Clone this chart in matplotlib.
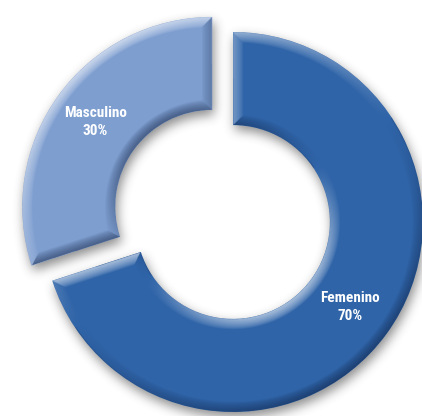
import numpy as np
import matplotlib
matplotlib.use("Agg")
import matplotlib.pyplot as plt
from matplotlib import font_manager

# data
categories = ["Femenino", "Masculino"]
percent = [70, 30]
explode = [0, 0.135]
colors = ["#2f64a8", "#7e9ed0"]

W_PX, H_PX = 422, 416
SS = 2  # supersampling for the shading images


def blur1d(a, k, axis):
    pad = [(0, 0), (0, 0)]
    pad[axis] = (k, k)
    p = np.pad(a, pad, mode="constant")
    c = np.cumsum(p, axis=axis)
    c = np.insert(c, 0, 0, axis=axis)
    n = a.shape[axis]
    if axis == 0:
        return (c[2 * k + 1:2 * k + 1 + n] - c[:n]) / (2 * k + 1)
    return (c[:, 2 * k + 1:2 * k + 1 + n] - c[:, :n]) / (2 * k + 1)


def box_blur(a, k, passes=3):
    for _ in range(passes):
        a = blur1d(blur1d(a, k, 0), k, 1)
    return a


def wedge_shading(w, X, Y, bevel, light):
    cx, cy = w.center
    R, width = w.r, w.width
    t1, t2 = w.theta1, w.theta2
    dx, dy = X - cx, Y - cy
    r = np.hypot(dx, dy)
    phi = np.degrees(np.arctan2(dy, dx))
    a1 = (phi - t1) % 360
    a2 = (t2 - phi) % 360
    inside = (r <= R) & (r >= R - width) & (a1 <= (t2 - t1))

    d_out = R - r
    d_in = r - (R - width)
    d1 = np.where(a1 < 90, r * np.sin(np.radians(np.minimum(a1, 90))), 9)
    d2 = np.where(a2 < 90, r * np.sin(np.radians(np.minimum(a2, 90))), 9)
    d = np.stack([d_out, d_in, d1, d2])
    idx = np.argmin(d, axis=0)
    dmin = np.min(d, axis=0)

    cphi, sphi = np.cos(np.radians(phi)), np.sin(np.radians(phi))
    r1, r2 = np.radians(t1), np.radians(t2)
    nx = np.choose(idx, [cphi, -cphi, np.full_like(X, np.sin(r1)), np.full_like(X, -np.sin(r2))])
    ny = np.choose(idx, [sphi, -sphi, np.full_like(X, -np.cos(r1)), np.full_like(X, np.cos(r2))])
    s = nx * light[0] + ny * light[1]
    f = np.clip(1 - dmin / bevel, 0, 1) ** 0.7

    rgba = np.zeros(X.shape + (4,))
    hi = s > 0
    rgba[hi, :3] = 1.0
    rgba[~hi, :3] = (0.04, 0.10, 0.22)
    alpha = np.where(hi, 0.6 * s * f, 0.5 * (-s) * f)
    # thin dark rim right on the boundary
    rim = np.clip(1 - dmin / 0.008, 0, 1) * 0.35
    alpha = np.where(hi, alpha, np.maximum(alpha, rim))
    rgba[..., 3] = np.where(inside, np.clip(alpha, 0, 1), 0)
    return rgba, inside


# condensed bold face for the labels, like the original
label_family = ["DejaVu Sans"]
names = {f.name for f in font_manager.fontManager.ttflist}
for cand in ["Liberation Sans Narrow", "Roboto Condensed", "Open Sans Condensed"]:
    if cand in names:
        label_family = [cand, "DejaVu Sans"]
        break

fig = plt.figure(figsize=(W_PX / 100, H_PX / 100), dpi=100)
ax = fig.add_axes([0, 0, 1, 1])

wedges, texts, autotexts = ax.pie(
    percent, explode=explode, colors=colors, startangle=90,
    counterclock=False, radius=1.0,
    wedgeprops=dict(width=0.49, linewidth=0),
    autopct="%d%%", pctdistance=0.76,
    textprops=dict(color="white", fontsize=11, fontweight="bold",
                   fontstretch="condensed", family=label_family),
)
for t, c, v in zip(autotexts, categories, percent):
    t.set_text(f"{c}\n{v}%")
    t.set_linespacing(1.3)
    t.set_zorder(5)

# axes limits so the ring sits like in the reference
scale = 190.0
x0, x1 = -233 / scale, (W_PX - 233) / scale
y0, y1 = -(H_PX - 222) / scale, 222 / scale

nx_, ny_ = W_PX * SS, H_PX * SS
xs = x0 + (np.arange(nx_) + 0.5) * (x1 - x0) / nx_
ys = y0 + (np.arange(ny_) + 0.5) * (y1 - y0) / ny_
X, Y = np.meshgrid(xs, ys)

light = np.array([-0.55, 0.83])
light = light / np.linalg.norm(light)
union = np.zeros(X.shape)
for w in wedges:
    rgba, inside = wedge_shading(w, X, Y, bevel=0.055, light=light)
    union = np.maximum(union, inside.astype(float))
    im = ax.imshow(rgba, extent=(x0, x1, y0, y1), origin="lower",
                   interpolation="bilinear", zorder=2)
    im.set_clip_path(w)

# soft drop shadow
sh = box_blur(union, 5 * SS) * 0.6
shadow = np.zeros(X.shape + (4,))
shadow[..., :3] = 0.25
shadow[..., 3] = sh
off_x, off_y = 2 / scale, -5 / scale
ax.imshow(shadow, extent=(x0 + off_x, x1 + off_x, y0 + off_y, y1 + off_y),
          origin="lower", interpolation="bilinear", zorder=0)

ax.set_xlim(x0, x1)
ax.set_ylim(y0, y1)
ax.set_aspect("auto")
ax.axis("off")

fig.savefig("out.png", dpi=100, facecolor="white")
